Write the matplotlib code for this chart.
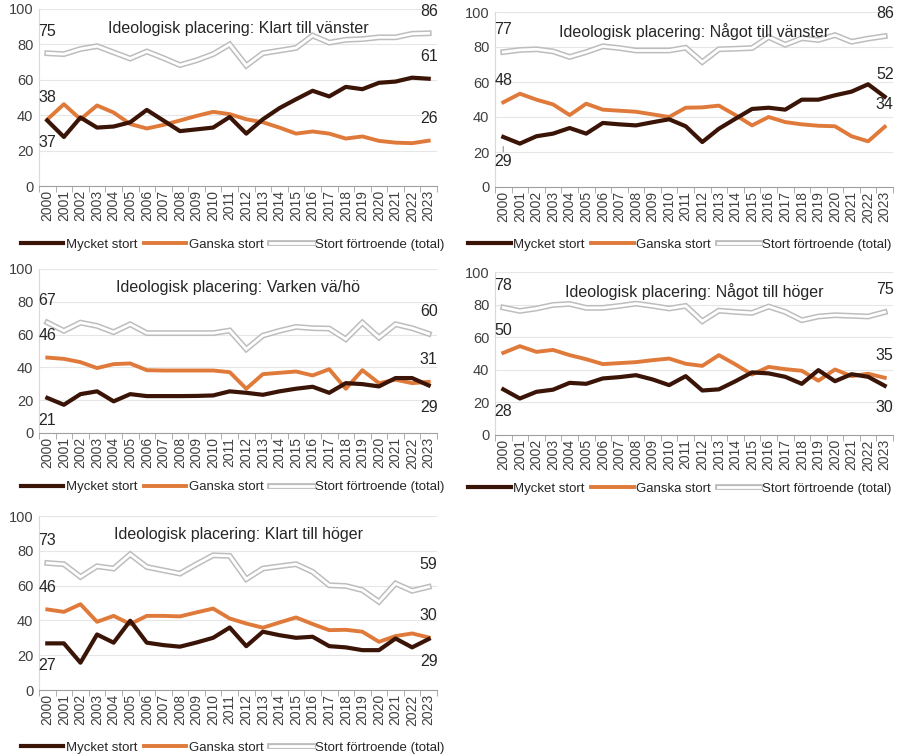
import matplotlib
matplotlib.use('Agg')
import matplotlib.pyplot as plt
import matplotlib.patheffects as pe
import numpy as np

plt.rcParams['font.family'] = ['Liberation Sans', 'DejaVu Sans']

years = [str(y) for y in range(2000, 2024)]
series_names = ['Mycket stort', 'Ganska stort', 'Stort förtroende (total)']

titles = [
    'Ideologisk placering: Klart till vänster',
    'Ideologisk placering: Något till vänster',
    'Ideologisk placering: Varken vä/hö',
    'Ideologisk placering: Något till höger',
    'Ideologisk placering: Klart till höger',
]

klart_v_mycket = [37, 27.7, 38.7, 33, 33.6, 36, 43, 37, 31, 32, 33, 39, 29.6, 37.7,
                  44, 49, 53.8, 50.6, 56, 54.7, 58.3, 59, 61.2, 60.6]
klart_v_ganska = [37.6, 46.2, 37.7, 45.5, 41.5, 35, 32.5, 34.5, 37, 39.6, 41.9, 40.6,
                  37.7, 36, 33, 29.6, 30.8, 29.6, 26.8, 28, 25.5, 24.5, 24.2, 25.6]
klart_v_total = [75, 74.5, 77.4, 79, 75.5, 72, 76, 72.3, 68.3, 71, 74.5, 80, 68, 75,
                 76.5, 78, 85, 81, 82.6, 83, 84, 84, 86, 86.3]

nagot_v_mycket = [28.6, 24.8, 29, 30.5, 33.7, 30.5, 36.6, 35.8, 35.2, 37, 38.7, 34.7,
                  25.7, 33.3, 39, 44.6, 45.3, 44.2, 49.9, 49.9, 52.4, 54.5, 58.7, 51.6]
nagot_v_ganska = [48.4, 53.3, 49.9, 47.2, 41.1, 47.6, 44.2, 43.6, 43, 41.5, 40, 45.3,
                  45.5, 46.5, 41.1, 35.2, 40, 37.1, 35.8, 35, 34.7, 29, 26.1, 34.4]
nagot_v_total = [77.1, 78.3, 78.7, 77.5, 74.3, 77.1, 80.4, 79.4, 78, 78, 78, 79.6,
                 71.4, 78.7, 79, 79.4, 85.7, 81.3, 85, 84, 86.8, 83, 84.8, 86.2]

varken_mycket = [21.4, 17.2, 23.7, 25.4, 19.3, 23.7, 22.5, 22.5, 22.5, 22.6, 22.9, 25.4,
                 24.5, 23.3, 25.4, 27, 28.2, 24.5, 30.4, 29.8, 28.4, 33.5, 33.5, 29]
varken_ganska = [46, 45.2, 43.2, 39.6, 42, 42.4, 38.3, 38.1, 38.1, 38.1, 38.1, 37.1,
                 27, 35.9, 36.7, 37.5, 35.1, 38.9, 27, 38.3, 30.4, 32.5, 30.4, 31.2]
varken_total = [67.4, 62.3, 67.3, 65.3, 61.5, 66.3, 60.9, 60.9, 60.9, 60.9, 60.9, 62.5,
                51.1, 59.4, 62.3, 64.7, 63.9, 63.7, 57.2, 67.3, 58.2, 66.3, 63.9, 60.5]

nagot_h_mycket = [28, 22.4, 26.5, 27.8, 32, 31.4, 34.7, 35.5, 36.7, 34.1, 30.6, 36.1,
                  27.3, 28, 33, 38.4, 37.8, 35.7, 31.4, 39.8, 33, 37.3, 35.7, 30.2]
nagot_h_ganska = [50.4, 54.5, 51, 52.2, 49, 46.5, 43.5, 44.1, 44.7, 45.9, 46.9, 43.7,
                  42.4, 49, 43.3, 37.1, 41.8, 40.4, 39.4, 33.3, 40.2, 36.1, 37.6, 35.1]
nagot_h_total = [78.2, 76.1, 77.6, 79.8, 80.4, 78, 78, 79.2, 80.6, 79.2, 77.6, 79.2,
                 69.8, 76.3, 75.5, 74.9, 78.8, 75.5, 70.4, 72.7, 73.5, 73.1, 72.7, 75.4]

klart_h_mycket = [26.8, 26.8, 15.7, 31.9, 27.2, 39.8, 27.2, 25.8, 24.9, 27.3, 30, 35.9,
                  25.2, 33.5, 31.5, 30, 30.6, 25.2, 24.5, 22.9, 22.9, 29.6, 24.5, 29.3]
klart_h_ganska = [46.3, 44.9, 49.3, 39.2, 42.6, 37.9, 42.6, 42.6, 42.3, 44.6, 46.8, 41.1,
                  38.2, 35.8, 38.8, 41.7, 37.9, 34.4, 34.6, 33.5, 27.7, 31, 32.5, 30.2]
klart_h_total = [73, 72.3, 65, 71.1, 69.8, 78, 70.7, 68.8, 66.9, 72.3, 77.4, 77.1,
                 63.7, 69.8, 71.1, 72.3, 67.9, 60.2, 59.8, 57.4, 50.7, 61.2, 57, 59.3]

panels = [
    (klart_v_mycket, klart_v_ganska, klart_v_total),
    (nagot_v_mycket, nagot_v_ganska, nagot_v_total),
    (varken_mycket, varken_ganska, varken_total),
    (nagot_h_mycket, nagot_h_ganska, nagot_h_total),
    (klart_h_mycket, klart_h_ganska, klart_h_total),
]

# label side (+1 above, -1 below) for first / last point: mycket, ganska, total
first_side = [(-1, 1, 1), (-1, 1, 1), (-1, 1, 1), (-1, 1, 1), (-1, 1, 1)]
last_side = [(1, 1, 1), (1, 1, 1), (-1, 1, 1), (-1, 1, 1), (-1, 1, 1)]

# axes rectangles in pixels: left, top, right, bottom
W, H = 899, 756
rects_px = [
    (39, 9, 437, 186),
    (495, 12, 893, 187),
    (39, 269, 437, 433),
    (495, 272, 893, 435),
    (39, 516, 437, 690),
]
legend_x = [0.487, 0.465, 0.487, 0.465, 0.487]

c_dark = '#3b1408'
c_orange = '#df7a3a'
c_gray = '#bdbdbd'

fig = plt.figure(figsize=(W / 100, H / 100), dpi=100)

x = np.arange(len(years))
for i, (vals, title, rp) in enumerate(zip(panels, titles, rects_px)):
    l, t, r, b = rp
    ax = fig.add_axes([l / W, (H - b) / H, (r - l) / W, (b - t) / H])
    mycket, ganska, total = vals

    h_tot, = ax.plot(x, total, color='white', lw=2.0, solid_joinstyle='miter',
                     path_effects=[pe.Stroke(linewidth=4.2, foreground=c_gray), pe.Normal()],
                     label=series_names[2], zorder=3)
    h_gan, = ax.plot(x, ganska, color=c_orange, lw=2.8, label=series_names[1], zorder=4)
    h_myc, = ax.plot(x, mycket, color=c_dark, lw=3.0, label=series_names[0], zorder=5)

    ax.set_xlim(-0.5, len(years) - 0.5)
    ax.set_ylim(0, 100)
    ax.set_yticks(range(0, 101, 20))
    ax.set_xticks(x)
    ax.set_xticklabels(years, rotation=90, fontsize=10, color='#404040')
    ax.set_xticks(np.arange(-0.5, len(years), 1), minor=True)
    ax.tick_params(axis='x', which='major', length=0, pad=3)
    ax.tick_params(axis='x', which='minor', length=4, color='#a0a0a0')
    ax.tick_params(axis='y', length=0, labelsize=10.5, labelcolor='#404040', pad=4)
    ax.grid(axis='y', color='#e6e6e6', lw=0.8)
    ax.set_axisbelow(True)
    for s in ['top', 'right']:
        ax.spines[s].set_visible(False)
    ax.spines['left'].set_color('#d9d9d9')
    ax.spines['bottom'].set_color('#a0a0a0')

    ax.text(0.5, 0.935, title, transform=ax.transAxes, ha='center', va='top',
            fontsize=11.5, color='#262626')

    for k, ser in enumerate(vals):
        for idx, side in ((0, first_side[i][k]), (len(ser) - 1, last_side[i][k])):
            v = int(round(ser[idx]))
            if i == 1 and k == 0 and idx == 0:
                ax.annotate(str(v), (x[idx], ser[idx]), xytext=(0, -18),
                            textcoords='offset points', ha='center', va='center',
                            fontsize=11.5, color='#262626',
                            arrowprops=dict(arrowstyle='-', color='#a6a6a6', lw=1,
                                            shrinkA=0, shrinkB=7))
                continue
            ax.annotate(str(v), (x[idx], ser[idx]), xytext=(0, 16 * side),
                        textcoords='offset points', ha='center', va='center',
                        fontsize=11.5, color='#262626')

    ax.legend([h_myc, h_gan, h_tot], series_names, loc='center',
              bbox_to_anchor=(legend_x[i], -0.33), ncol=3, frameon=False,
              fontsize=9.5, handlelength=3.2, handletextpad=0.2, columnspacing=0.5,
              borderaxespad=0, labelcolor='#262626')

fig.savefig('out.png', dpi=100)
